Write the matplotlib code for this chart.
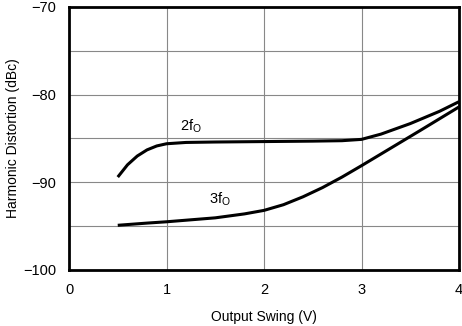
import numpy as np
import matplotlib
matplotlib.use('Agg')
import matplotlib.pyplot as plt

# values
swing_2f = [0.5, 0.6, 0.7, 0.8, 0.9, 1.0, 1.2, 1.5, 2.0, 2.5, 2.8, 3.0, 3.2, 3.5, 3.8, 4.0]
hd2 = [-89.4, -88.0, -87.0, -86.3, -85.85, -85.6, -85.45, -85.4, -85.35, -85.3, -85.25, -85.1, -84.5, -83.3, -81.9, -80.8]

swing_3f = [0.5, 0.8, 1.0, 1.5, 1.8, 2.0, 2.2, 2.4, 2.6, 2.8, 3.0, 3.3, 3.6, 4.0]
hd3 = [-94.9, -94.65, -94.5, -94.05, -93.6, -93.2, -92.55, -91.65, -90.6, -89.4, -88.1, -86.1, -84.1, -81.4]

xticks = [0, 1, 2, 3, 4]
yticks = [-100, -90, -80, -70]

plt.rcParams['font.family'] = ['Liberation Sans', 'DejaVu Sans']

fig = plt.figure(figsize=(4.62, 3.26), dpi=100, facecolor='w')
ax = fig.add_axes([69 / 462, 56 / 326, 390 / 462, 263 / 326])

ax.plot(swing_2f, hd2, color='black', lw=2.2, solid_capstyle='butt', solid_joinstyle='round')
ax.plot(swing_3f, hd3, color='black', lw=2.2, solid_capstyle='butt', solid_joinstyle='round')

ax.text(1.25, -84.6, '2f$_\\mathregular{O}$', fontsize=10.5, ha='center', va='bottom')
ax.text(1.55, -92.9, '3f$_\\mathregular{O}$', fontsize=10.5, ha='center', va='bottom')

ax.set_xlim(0, 4)
ax.set_ylim(-100, -70)
ax.set_xticks(xticks)
ax.set_yticks(yticks)
ax.set_yticks(np.arange(-100, -69, 5), minor=True)
ax.tick_params(which='both', length=0, labelsize=10.5, pad=9)
ax.grid(True, which='both', color='#888888', lw=0.8)
for s in ax.spines.values():
    s.set_linewidth(2)

ax.set_xlabel('Output Swing (V)', fontsize=10, labelpad=10)
ax.set_ylabel('Harmonic Distortion (dBc)', fontsize=10)
ax.yaxis.set_label_coords(-0.125, 0.5)

plt.savefig('out.png', dpi=100)
